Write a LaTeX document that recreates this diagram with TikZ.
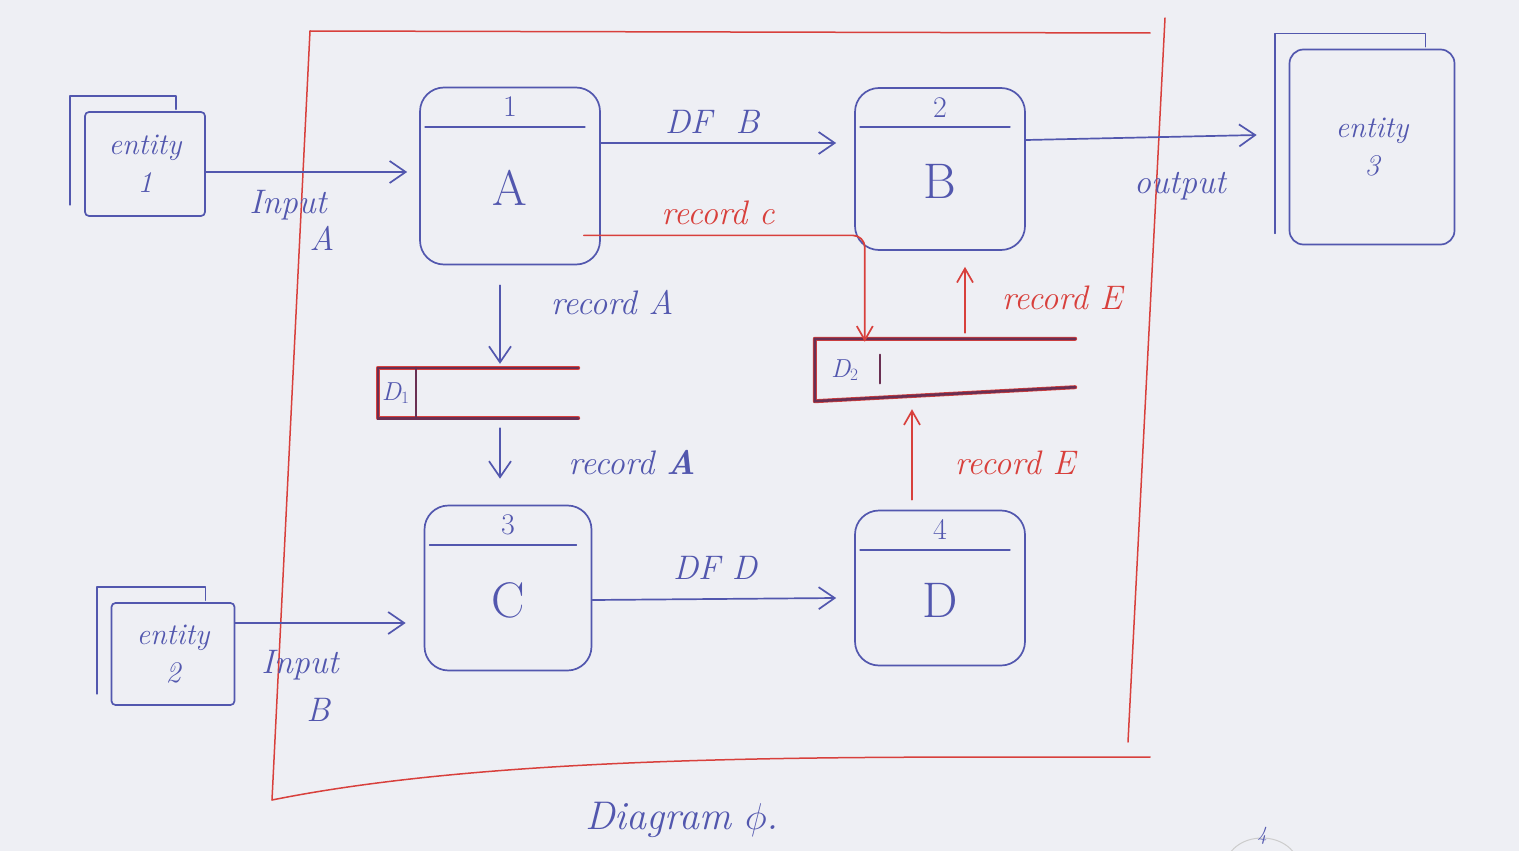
\documentclass[tikz,border=0pt]{standalone}
\usepackage{fontspec}
\usetikzlibrary{arrows.meta,calc}

\definecolor{paper}{HTML}{EEEFF4}
\definecolor{inkblue}{HTML}{5257AE}
\definecolor{inkred}{HTML}{D8403C}
\definecolor{inkdark}{HTML}{6A2F52}

\tikzset{
  pen/.style={draw=inkblue, line width=1.7pt, line cap=round, line join=round},
  redpen/.style={draw=inkred, line width=1.7pt, line cap=round, line join=round},
  flow/.style={pen, -{Straight Barb[length=16pt,width=22pt,line width=1.7pt]}},
  redflow/.style={redpen, -{Straight Barb[length=14pt,width=16pt,line width=1.7pt]}},
  proc/.style={pen, rectangle, rounded corners=24pt, inner sep=0pt},
  entitybox/.style={pen, rectangle, rounded corners=4pt, inner sep=0pt, align=center,
    font=\fontsize{30}{38}\selectfont\itshape, text=inkblue},
  storebox/.style={rectangle, inner sep=0pt},
  storeline/.style={draw=inkdark, line width=2.6pt, line cap=round},
  lbl/.style={text=inkblue, font=\fontsize{34}{36}\selectfont\itshape, inner sep=0pt, align=center},
  redlbl/.style={text=inkred, font=\fontsize{34}{36}\selectfont\itshape, inner sep=0pt},
  num/.style={text=inkblue, font=\fontsize{30}{30}\selectfont, inner sep=0pt},
  letter/.style={text=inkblue, font=\fontsize{50}{50}\selectfont, inner sep=0pt}
}

\begin{document}
\begin{tikzpicture}[x=1pt,y=-1pt]
% sheet of paper
\useasboundingbox[fill=paper] (0,0) rectangle (1519,851);
\clip (0,0) rectangle (1519,851);

% system boundary
\draw[redpen, line width=1.5pt] (310,31) -- (1150,33);
\draw[redpen, line width=1.5pt] (1165,18) -- (1128,742);
\draw[redpen, line width=1.5pt] (310,31) -- (272,800);
\draw[redpen, line width=1.5pt] (272,800) .. controls (520,750) and (900,758) .. (1150,757);

% processes
\node[proc, minimum width=180pt, minimum height=177pt] (pA) at (510,176) {};
\node[proc, minimum width=170pt, minimum height=162pt] (pB) at (940,169) {};
\node[proc, minimum width=167pt, minimum height=165pt] (pC) at (508,588) {};
\node[proc, minimum width=170pt, minimum height=155pt] (pD) at (940,588) {};

\foreach \p/\n/\l in {pA/1/A, pB/2/B, pC/3/C, pD/4/D}{
  \draw[pen] ([xshift=6pt,yshift=-40pt]\p.north west) -- ([xshift=-16pt,yshift=-40pt]\p.north east);
  \node[num] at ([yshift=-20pt]\p.north) {\n};
  \node[letter] at ([yshift=-12pt]\p.center) {\l};
}

% external entities
\node[entitybox, minimum width=120pt, minimum height=104pt] (e1) at (145,164) {entity\\1};
\node[entitybox, minimum width=123pt, minimum height=102pt] (e2) at (173,654) {entity\\2};
\node[entitybox, rounded corners=14pt, minimum width=165pt, minimum height=195pt] (e3) at (1372,147) {entity\\3};

\foreach \e in {e1,e2,e3}{
  \draw[pen] ([xshift=-14pt,yshift=12pt]\e.south west) -- ([xshift=-14pt,yshift=15pt]\e.north west)
    -- ([xshift=-30pt,yshift=15pt]\e.north east) -- ([xshift=-30pt,yshift=2pt]\e.north east);
}

% data stores
\node[storebox, minimum width=200pt, minimum height=50pt] (d1) at (478,393) {};
\draw[redpen, line width=4pt] (d1.north east) -- (d1.north west) -- (d1.south west) -- (d1.south east);
\draw[storeline] (d1.north east) -- (d1.north west) -- (d1.south west) -- (d1.south east);
\draw[storeline] ([xshift=38pt]d1.north west) -- ([xshift=38pt]d1.south west);
\node[text=inkblue, font=\fontsize{26}{26}\selectfont\itshape, inner sep=0pt] at ([xshift=18pt]d1.west) {D$_1$};

\node[storebox, minimum width=260pt, minimum height=62pt] (d2) at (945,370) {};
\draw[redpen, line width=4pt] (d2.north east) -- (d2.north west) -- (d2.south west) -- ([yshift=14pt]d2.south east);
\draw[storeline] (d2.north east) -- (d2.north west) -- (d2.south west) -- ([yshift=14pt]d2.south east);
\draw[storeline] ([xshift=65pt,yshift=-16pt]d2.north west) -- ([xshift=65pt,yshift=18pt]d2.south west);
\node[text=inkblue, font=\fontsize{26}{26}\selectfont\itshape, inner sep=0pt] at ([xshift=30pt]d2.west) {D$_2$};

% data flows
\draw[flow] ([yshift=-8pt]e1.east) -- ([xshift=-12pt,yshift=4pt]pA.west);
\draw[flow] ([yshift=33pt]pA.east) -- ([xshift=-18pt,yshift=26pt]pB.west);
\draw[flow] ([yshift=29pt]pB.east) -- ([xshift=-32pt,yshift=12pt]e3.west);
\draw[flow] ([xshift=-10pt,yshift=-20pt]pA.south) -- ([xshift=22pt,yshift=4pt]d1.north);
\draw[flow] ([xshift=22pt,yshift=-10pt]d1.south) -- ([xshift=-8pt,yshift=26pt]pC.north);
\draw[flow] ([yshift=31pt]e2.east) -- ([xshift=-18pt,yshift=-35pt]pC.west);
\draw[flow] ([yshift=-12pt]pC.east) -- ([xshift=-18pt,yshift=-10pt]pD.west);

\draw[redflow, rounded corners=12pt] ([xshift=-17pt,yshift=30pt]pA.south east) -| ([xshift=50pt,yshift=-3pt]d2.north west);
\draw[redflow] ([xshift=20pt,yshift=6pt]d2.north) -- ([xshift=25pt,yshift=-16pt]pB.south);
\draw[redflow] ([xshift=-28pt,yshift=10pt]pD.north) -- ([xshift=-33pt,yshift=-8pt]d2.south);

% flow labels
\node[lbl] at (288,205) {Input};
\node[lbl] at (322,238) {A};
\node[lbl] at (712,122) {DF\ \ B};
\node[lbl] at (1180,186) {output};
\node[redlbl] at (718,213) {record c};
\node[lbl] at (612,303) {record A};
\node[lbl] at (632,463) {record \textbf{A}};
\node[redlbl] at (1062,298) {record E};
\node[redlbl] at (1015,463) {record E};
\node[lbl] at (300,665) {Input};
\node[lbl] at (318,710) {B};
\node[lbl] at (715,568) {DF D};

% caption and page mark
\node[lbl, font=\fontsize{40}{40}\selectfont\itshape] at (682,820) {Diagram \scalebox{1.5}{$\phi$}.};
\draw[gray!40, line width=1pt] (1262,866) ellipse [x radius=36pt, y radius=28pt];
\node[text=inkblue, font=\fontsize{20}{20}\selectfont\itshape, inner sep=0pt] at (1262,836) {4};
\end{tikzpicture}
\end{document}
